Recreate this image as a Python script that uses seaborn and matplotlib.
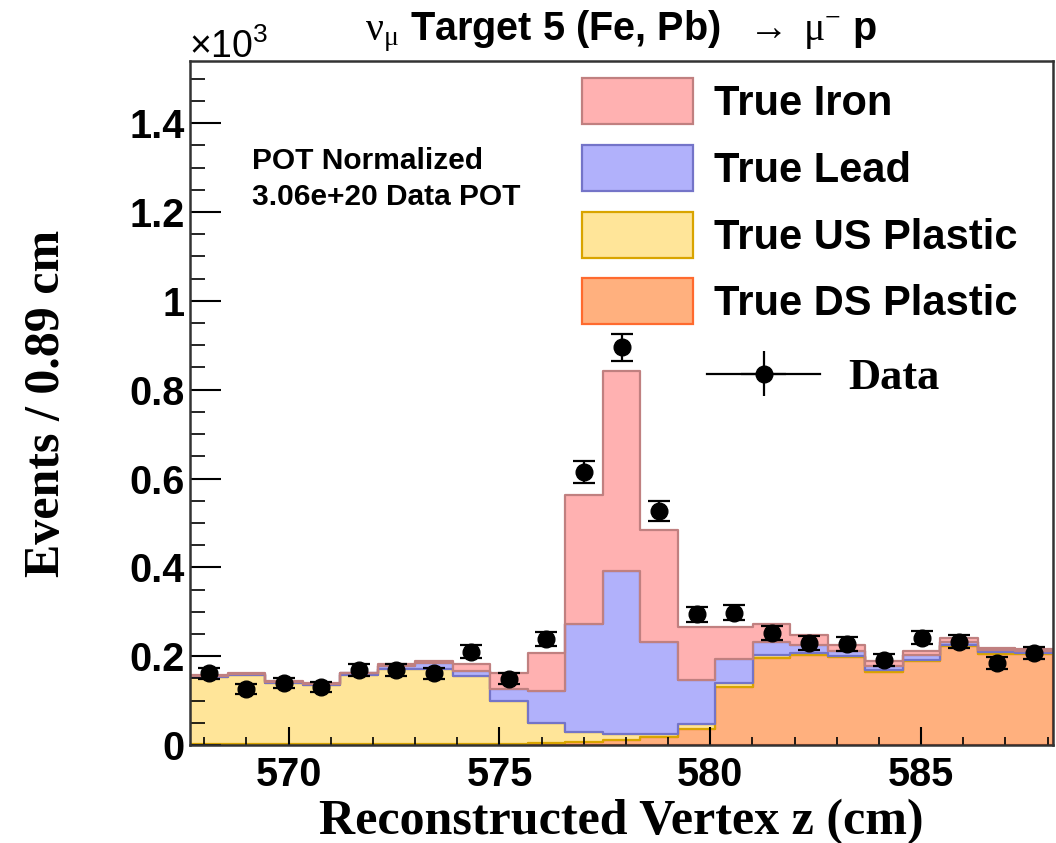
import numpy as np
import pandas as pd
import matplotlib
matplotlib.use("Agg")
import matplotlib.pyplot as plt
from matplotlib.patches import Patch
from matplotlib.ticker import MultipleLocator, FuncFormatter
from matplotlib.colors import to_rgb
import seaborn as sns

# ---------------- data (values in units of 10^3 events) ----------------
bin_width = 0.89
z_start = 567.66
n_bins = 23

iron = [0.002, 0.002, 0.002, 0.002, 0.002, 0.004, 0.005, 0.016, 0.038, 0.086,
        0.291, 0.450, 0.250, 0.119, 0.071, 0.040, 0.022, 0.015, 0.011, 0.009,
        0.008, 0.005, 0.005]
lead = [0.002, 0.002, 0.002, 0.003, 0.003, 0.008, 0.014, 0.012, 0.027, 0.072,
        0.242, 0.367, 0.208, 0.098, 0.055, 0.030, 0.019, 0.010, 0.008, 0.011,
        0.007, 0.004, 0.005]
us_plastic = [0.152, 0.155, 0.138, 0.132, 0.156, 0.168, 0.168, 0.153, 0.095, 0.045,
              0.024, 0.014, 0.008, 0.012, 0.008, 0.008, 0.004, 0.003, 0.004, 0.004,
              0.003, 0.004, 0.002]
ds_plastic = [0.002, 0.002, 0.002, 0.002, 0.002, 0.002, 0.002, 0.002, 0.003, 0.004,
              0.006, 0.011, 0.017, 0.036, 0.131, 0.195, 0.203, 0.198, 0.165, 0.188,
              0.223, 0.205, 0.205]
data = [0.161, 0.127, 0.140, 0.131, 0.169, 0.169, 0.161, 0.210, 0.149, 0.239,
        0.614, 0.895, 0.527, 0.294, 0.298, 0.252, 0.230, 0.227, 0.192, 0.242,
        0.233, 0.184, 0.207]
data_err = [0.0127, 0.0113, 0.0118, 0.0114, 0.0130, 0.0130, 0.0127, 0.0145, 0.0122, 0.0155,
            0.0248, 0.0299, 0.0230, 0.0171, 0.0173, 0.0159, 0.0152, 0.0151, 0.0139, 0.0156,
            0.0153, 0.0136, 0.0144]

labels = ["True Iron", "True Lead", "True US Plastic", "True DS Plastic"]
x_ticks = [570, 575, 580, 585]
y_ticks = [0, 0.2, 0.4, 0.6, 0.8, 1.0, 1.2, 1.4]

# ---------------- styling ----------------
fill_colors = {"True Iron": "#FFB1B1", "True Lead": "#B1B1FB",
               "True US Plastic": "#FFE599", "True DS Plastic": "#FFB07E"}
edge_colors = {"True Iron": "#C08080", "True Lead": "#7474C8",
               "True US Plastic": "#D9A400", "True DS Plastic": "#FF6A2E"}

SANS = "Liberation Sans"
SERIF = "Liberation Serif"
plt.rcParams["mathtext.fontset"] = "custom"
plt.rcParams["mathtext.rm"] = "Liberation Serif"
plt.rcParams["mathtext.it"] = "Liberation Serif:italic"
plt.rcParams["mathtext.bf"] = "Liberation Serif:bold"
plt.rcParams["mathtext.sf"] = "Liberation Sans"

edges = z_start + bin_width * np.arange(n_bins + 1)
centers = 0.5 * (edges[:-1] + edges[1:])

df = pd.DataFrame({
    "z": np.tile(centers, 4),
    "w": np.concatenate([iron, lead, us_plastic, ds_plastic]),
    "comp": np.repeat(labels, n_bins),
})

W, H = 1056, 843
fig = plt.figure(figsize=(W / 100, H / 100), dpi=100)
ax = fig.add_axes([190 / W, 1 - 745 / H, (1053 - 190) / W, (745 - 61) / H])

sns.histplot(data=df, x="z", weights="w", hue="comp", hue_order=labels,
             bins=n_bins, binrange=(float(edges[0]), float(edges[-1])),
             multiple="stack", element="step", fill=True,
             palette=fill_colors, alpha=1, linewidth=1.6, legend=False, ax=ax)

# edge colours per layer
for coll in ax.collections:
    fc = coll.get_facecolor()
    if len(fc) == 0:
        continue
    rgb = tuple(np.round(fc[0][:3], 3))
    for lab in labels:
        if tuple(np.round(to_rgb(fill_colors[lab]), 3)) == rgb:
            coll.set_edgecolor(edge_colors[lab])
            coll.set_linewidth(1.6)

# data points
ax.errorbar(centers, data, yerr=data_err, fmt="o", color="black", ms=12,
            elinewidth=1.6, capsize=8, capthick=1.6, zorder=5)

ax.set_xlim(edges[0], edges[-1])
ax.set_ylim(0, 1.54)

ax.set_xticks(x_ticks)
ax.set_yticks(y_ticks)
ax.xaxis.set_minor_locator(MultipleLocator(1))
ax.yaxis.set_minor_locator(MultipleLocator(0.05))
ax.yaxis.set_major_formatter(FuncFormatter(lambda v, p: f"{v:g}"))
ax.tick_params(axis="y", which="major", direction="in", length=22, width=1.5, pad=4)
ax.tick_params(axis="y", which="minor", direction="in", length=11, width=1.2)
ax.tick_params(axis="x", which="major", direction="in", length=13, width=1.5, pad=8)
ax.tick_params(axis="x", which="minor", direction="in", length=6, width=1.2)
for lab in ax.get_xticklabels() + ax.get_yticklabels():
    lab.set_fontfamily(SANS)
    lab.set_fontweight("bold")
    lab.set_fontsize(28.5)
for sp in ax.spines.values():
    sp.set_linewidth(1.8)
    sp.set_color("#333333")

ax.set_xlabel("Reconstructed Vertex z (cm)", fontfamily=SERIF, fontweight="bold",
              fontsize=36)
ax.xaxis.label.set_va("baseline")
ax.xaxis.set_label_coords(0.5, (745 - 834) / (745 - 61))
ax.set_ylabel("Events / 0.89 cm", fontfamily=SERIF, fontweight="bold", fontsize=36)
ax.yaxis.label.set_va("center")
ax.yaxis.label.set_ha("center")
ax.yaxis.set_label_coords((47 - 190) / (1053 - 190), 0.5)

fig.text(189 / W, 1 - 58 / H, r"$\mathsf{\times10^{3}}$", fontsize=27,
         ha="left", va="baseline")
fig.text(621 / W, 1 - 40 / H,
         r"$\mathrm{\nu_{\mu}}$ " + "Target 5 (Fe, Pb)  " + r"$\mathrm{\rightarrow\ \mu^{-}}$" + " p",
         fontfamily=SANS, fontweight="bold", fontsize=28.5, ha="center", va="baseline")

fig.text(252 / W, 1 - 169 / H, "POT Normalized", fontfamily=SANS, fontweight="bold",
         fontsize=21.5, ha="left", va="baseline")
fig.text(252 / W, 1 - 205 / H, "3.06e+20 Data POT", fontfamily=SANS, fontweight="bold",
         fontsize=21.5, ha="left", va="baseline")

# legends
handles = [Patch(facecolor=fill_colors[l], edgecolor=edge_colors[l], linewidth=1.6)
           for l in labels]
leg1 = ax.legend(handles, labels, loc="upper left",
                 bbox_to_anchor=(582 / W, 1 - 78 / H), bbox_transform=fig.transFigure,
                 frameon=False, borderpad=0, borderaxespad=0,
                 handlelength=2.66, handleheight=1.32, handletextpad=0.5,
                 labelspacing=0.5,
                 prop={"family": SANS, "weight": "bold", "size": 30})
ax.add_artist(leg1)

dummy = ax.errorbar([np.nan], [np.nan], xerr=[np.nan], yerr=[np.nan], fmt="o-",
                    color="black", ms=12, lw=1.6, elinewidth=1.6, capsize=0)
leg2 = ax.legend([dummy], ["Data"], loc="center left",
                 bbox_to_anchor=(707 / W, 1 - 378 / H), bbox_transform=fig.transFigure,
                 frameon=False, borderpad=0, borderaxespad=0,
                 handlelength=2.55, handletextpad=0.62,
                 prop={"family": SERIF, "weight": "bold", "size": 32})

fig.savefig("out.png", dpi=100)
